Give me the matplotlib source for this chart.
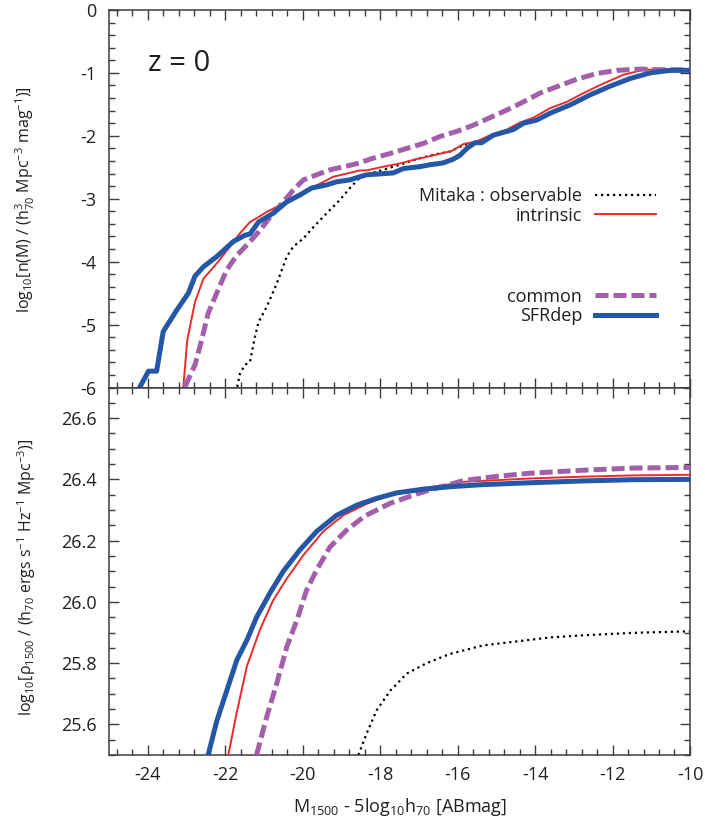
import matplotlib
matplotlib.use("Agg")
import matplotlib.pyplot as plt
from matplotlib.ticker import MultipleLocator

plt.rcParams['font.family'] = ['Open Sans', 'DejaVu Sans']
plt.rcParams['mathtext.fontset'] = 'custom'
plt.rcParams['mathtext.rm'] = 'Open Sans'
plt.rcParams['mathtext.it'] = 'Open Sans'
plt.rcParams['mathtext.default'] = 'regular'
plt.rcParams['axes.unicode_minus'] = False

TXT = '#231f20'
SPINE = '#3c3c3c'

# --- luminosity function (top panel) ---
sfr_x = [-24.20, -23.98, -23.77, -23.60, -23.25, -22.95, -22.78, -22.56, -22.22, -21.79,
         -21.49, -21.36, -21.14, -20.76, -20.41, -20.07, -19.77, -19.38, -19.12, -18.78,
         -18.52, -18.35, -17.66, -17.40, -16.97, -16.71, -16.37, -16.11, -15.94, -15.76,
         -15.55, -15.38, -15.08, -14.73, -14.56, -14.30, -13.96, -13.61, -13.10, -12.58,
         -12.06, -11.55, -11.03, -10.51, -10.00]
sfr_y = [-5.99, -5.74, -5.74, -5.11, -4.77, -4.50, -4.23, -4.08, -3.92, -3.68,
         -3.58, -3.56, -3.37, -3.23, -3.05, -2.94, -2.83, -2.78, -2.73, -2.70,
         -2.65, -2.62, -2.59, -2.52, -2.49, -2.46, -2.43, -2.37, -2.31, -2.20,
         -2.11, -2.11, -1.99, -1.93, -1.90, -1.80, -1.75, -1.64, -1.51, -1.35,
         -1.21, -1.09, -1.00, -0.96, -0.96]

int_x = [-23.08, -22.98, -22.78, -22.56, -22.18, -21.88, -21.62, -21.36, -21.19, -20.93,
         -20.58, -20.24, -19.90, -19.55, -19.21, -18.86, -18.52, -18.35, -17.92, -17.49,
         -17.06, -16.63, -16.15, -15.85, -15.51, -15.16, -14.73, -14.39, -14.04, -13.61,
         -13.18, -12.75, -12.24, -11.72, -11.20, -10.69, -10.00]
int_y = [-5.99, -5.25, -4.64, -4.27, -4.00, -3.76, -3.55, -3.37, -3.31, -3.21,
         -3.10, -2.97, -2.86, -2.76, -2.65, -2.60, -2.55, -2.55, -2.49, -2.44,
         -2.37, -2.31, -2.24, -2.13, -2.09, -1.99, -1.90, -1.79, -1.71, -1.56,
         -1.46, -1.32, -1.17, -1.03, -0.95, -0.94, -0.95]

com_x = [-23.04, -22.78, -22.61, -22.44, -22.22, -21.96, -21.70, -21.40, -21.10, -20.84,
         -20.50, -20.24, -19.98, -19.64, -19.29, -18.86, -18.52, -18.26, -17.74, -17.31,
         -16.88, -16.45, -16.02, -15.59, -15.16, -14.73, -14.30, -13.87, -13.44, -12.92,
         -12.41, -11.89, -11.29, -10.69, -10.00]
com_y = [-5.99, -5.64, -5.25, -4.82, -4.50, -4.13, -3.90, -3.71, -3.50, -3.29,
         -3.05, -2.86, -2.70, -2.62, -2.54, -2.48, -2.43, -2.37, -2.28, -2.20,
         -2.12, -2.01, -1.93, -1.83, -1.71, -1.59, -1.46, -1.32, -1.22, -1.10,
         -1.01, -0.96, -0.94, -0.95, -0.95]

obs_x = [-21.69, -21.62, -21.49, -21.36, -21.23, -21.14, -20.93, -20.67, -20.41, -20.24,
         -19.98, -19.72, -19.38, -19.04, -18.78, -18.52, -18.26, -17.92, -17.49, -17.06,
         -16.54, -16.20, -15.85, -15.51]
obs_y = [-5.99, -5.78, -5.64, -5.59, -5.19, -4.96, -4.72, -4.35, -3.92, -3.76,
         -3.63, -3.45, -3.23, -3.02, -2.83, -2.66, -2.60, -2.54, -2.46, -2.37,
         -2.29, -2.25, -2.15, -2.09]

# --- cumulative luminosity density (bottom panel) ---
rsfr_x = [-22.44, -22.22, -21.96, -21.70, -21.44, -21.19, -20.84, -20.50, -20.07, -19.64,
          -19.12, -18.60, -18.09, -17.57, -16.88, -16.20, -15.34, -14.13, -12.75, -11.46, -10.00]
rsfr_y = [25.50, 25.61, 25.71, 25.81, 25.875, 25.95, 26.03, 26.10, 26.17, 26.23,
          26.283, 26.316, 26.338, 26.356, 26.368, 26.376, 26.383, 26.389, 26.395, 26.399, 26.40]

rint_x = [-21.92, -21.70, -21.44, -21.10, -20.76, -20.41, -19.98, -19.47, -18.95, -18.35,
          -17.57, -16.88, -16.20, -15.85, -14.13, -12.75, -11.46, -10.00]
rint_y = [25.50, 25.64, 25.79, 25.91, 26.006, 26.076, 26.153, 26.23, 26.283, 26.32,
          26.357, 26.372, 26.384, 26.392, 26.403, 26.409, 26.413, 26.415]

rcom_x = [-21.19, -20.93, -20.67, -20.41, -20.15, -19.90, -19.64, -19.29, -18.86, -18.40,
          -17.74, -17.06, -16.71, -15.85, -14.99, -14.13, -12.75, -11.46, -10.00]
rcom_y = [25.50, 25.624, 25.733, 25.853, 25.94, 26.038, 26.104, 26.18, 26.235, 26.28,
          26.322, 26.352, 26.366, 26.396, 26.410, 26.42, 26.43, 26.437, 26.439]

robs_x = [-18.56, -18.35, -18.09, -17.74, -17.31, -16.80, -16.20, -15.34, -14.47, -13.61,
          -12.75, -11.46, -10.00]
robs_y = [25.50, 25.57, 25.646, 25.71, 25.766, 25.80, 25.83, 25.858, 25.871, 25.884,
          25.891, 25.899, 25.904]

BLUE = '#2457a6'
PURPLE = '#a45fab'
RED = '#ee2a2a'

fig = plt.figure(figsize=(7.05, 8.25), dpi=100)
ax1 = fig.add_axes([0.1546, 0.5303, 0.8241, 0.4576])
ax2 = fig.add_axes([0.1546, 0.0848, 0.8241, 0.4455])

def style(ax, show_xlabels):
    ax.set_xlim(-25, -10)
    ax.xaxis.set_major_locator(MultipleLocator(2))
    ax.xaxis.set_minor_locator(MultipleLocator(0.4))
    ax.tick_params(which='both', direction='in', top=True, right=True,
                   colors=SPINE, labelcolor=TXT, width=1.0)
    ax.tick_params(which='major', length=7, labelsize=13, pad=8)
    ax.tick_params(which='minor', length=4)
    ax.tick_params(axis='y', which='major', pad=9)
    if not show_xlabels:
        ax.tick_params(axis='x', labelbottom=False)
    for s in ax.spines.values():
        s.set_color(SPINE)
        s.set_linewidth(1.1)

# top panel
ax1.plot(obs_x, obs_y, color='black', lw=1.6, ls=(0, (1, 1.7)), zorder=2,
         label='Mitaka : observable')
ax1.plot(int_x, int_y, color=RED, lw=1.4, zorder=3, label='intrinsic')
ax1.plot(com_x, com_y, color=PURPLE, lw=3.6, ls=(0, (2.6, 1.0)), zorder=4,
         label='common')
ax1.plot(sfr_x, sfr_y, color=BLUE, lw=3.6, zorder=5, label='SFRdep')
ax1.set_ylim(-6, 0)
ax1.yaxis.set_major_locator(MultipleLocator(1))
ax1.yaxis.set_minor_locator(MultipleLocator(0.2))
style(ax1, False)
ax1.text(0.067, 0.857, 'z = 0', transform=ax1.transAxes, fontsize=21,
         color=TXT, va='center', ha='left')

h, l = ax1.get_legend_handles_labels()
leg1 = ax1.legend(h[:2], l[:2], loc='center right', bbox_to_anchor=(0.957, 0.481),
                  frameon=False, fontsize=13, handlelength=3.4, handletextpad=0.7,
                  markerfirst=False, labelspacing=0.1, borderpad=0, labelcolor=TXT)
ax1.add_artist(leg1)
ax1.legend(h[2:], l[2:], loc='center right', bbox_to_anchor=(0.957, 0.2146),
           frameon=False, fontsize=13, handlelength=3.4, handletextpad=0.7,
           markerfirst=False, labelspacing=0.1, borderpad=0, labelcolor=TXT)

# bottom panel
ax2.plot(robs_x, robs_y, color='black', lw=1.6, ls=(0, (1, 1.7)), zorder=2)
ax2.plot(rint_x, rint_y, color=RED, lw=1.4, zorder=3)
ax2.plot(rcom_x, rcom_y, color=PURPLE, lw=3.6, ls=(0, (2.6, 1.0)), zorder=4)
ax2.plot(rsfr_x, rsfr_y, color=BLUE, lw=3.6, zorder=5)
ax2.set_ylim(25.5, 26.7)
ax2.yaxis.set_minor_locator(MultipleLocator(0.05))
ax2.set_yticks([25.6, 25.8, 26.0, 26.2, 26.4, 26.6])
ax2.set_yticklabels(['25.6', '25.8', '26.0', '26.2', '26.4', '26.6'])
style(ax2, True)

fig.text(0.0355, 0.7576,
         r'log$_{10}$[n(M) / (h$^{3}_{70}$ Mpc$^{-3}$ mag$^{-1}$)]',
         rotation=90, ha='center', va='center', fontsize=11.5, color=TXT)
fig.text(0.038, 0.3006,
         r'log$_{10}$[$\rho_{1500}$ / (h$_{70}$ ergs s$^{-1}$ Hz$^{-1}$ Mpc$^{-3}$)]',
         rotation=90, ha='center', va='center', fontsize=11.5, color=TXT)
fig.text(0.567, 0.022, r'M$_{1500}$ - 5log$_{10}$h$_{70}$ [ABmag]',
         ha='center', va='center', fontsize=13, color=TXT)

fig.savefig('out.png', dpi=100)
